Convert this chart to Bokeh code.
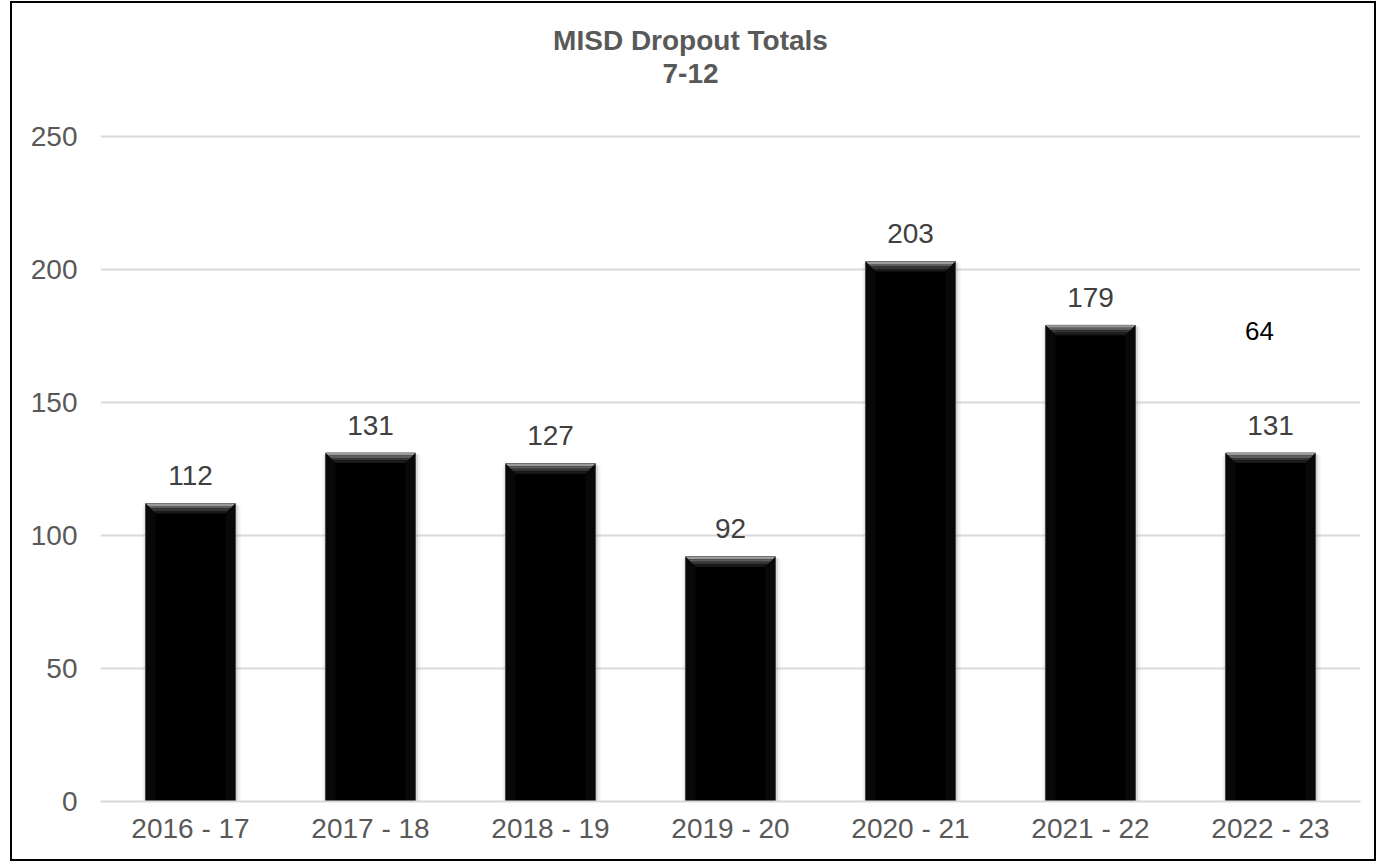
from bokeh.plotting import figure
from bokeh.models import Range1d, FixedTicker, Label, ColumnDataSource, LabelSet
from bokeh.core.properties import value
from bokeh.embed import file_html
from bokeh.resources import INLINE
import numpy as np

# ---- data ----
categories = ["2016 - 17", "2017 - 18", "2018 - 19", "2019 - 20", "2020 - 21", "2021 - 22", "2022 - 23"]
values = [112, 131, 127, 92, 203, 179, 131]
title_lines = ["MISD Dropout Totals", "7-12"]
stray_label_text = "64"
stray_label_value = 177
y_ticks = [0, 50, 100, 150, 200, 250]

FONT = "Liberation Sans"
GRAY = "#595959"

p = figure(width=1366, height=860, output_backend="svg", toolbar_location=None, title=None,
           x_range=Range1d(-0.5, len(categories) - 0.5), y_range=Range1d(0, 300),
           min_border_left=88, min_border_right=18, min_border_top=0, min_border_bottom=62)
p.styles = {"border": "2px solid black", "margin-left": "10px", "margin-top": "1px"}
p.outline_line_color = None
p.background_fill_color = "white"
p.border_fill_color = "white"

# pixel -> data conversions
px_x = 1.0 / 180.0
px_y = 250.0 / 665.0

x = np.arange(len(categories), dtype=float)
v = np.array(values, dtype=float)
half = 0.25

# soft shadows around bars
p.quad(left=x - half - 3 * px_x, right=x + half + 5 * px_x, top=v - 2 * px_y, bottom=0,
       fill_color="#909090", fill_alpha=0.12, line_color=None)
p.quad(left=x - half - 1 * px_x, right=x + half + 2.5 * px_x, top=v - 1 * px_y, bottom=0,
       fill_color="#707070", fill_alpha=0.2, line_color=None)

# bars
p.vbar(x=x, top=v, width=2 * half, bottom=0, fill_color="#000000",
       line_color="#484848", line_width=1)

# top bevel (gradient strips)
strip_colors = ["#9a9a9a", "#5e5e5e", "#353535", "#1a1a1a"]
step = 2.5
for k, col in enumerate(strip_colors):
    d0, d1 = k * step, (k + 1) * step
    xs, ys = [], []
    for xi, vi in zip(x, v):
        l, r = xi - half, xi + half
        xs.append([l + d0 * px_x, r - d0 * px_x, r - d1 * px_x, l + d1 * px_x])
        ys.append([vi - d0 * px_y, vi - d0 * px_y, vi - d1 * px_y, vi - d1 * px_y])
    p.patches(xs=xs, ys=ys, fill_color=col, line_color=None)
# side bevels (subtle)
xs, ys = [], []
for xi, vi in zip(x, v):
    l, r = xi - half, xi + half
    d = len(strip_colors) * step
    xs.append([l + 0.5 * px_x, l + d * px_x, l + d * px_x, l + 0.5 * px_x])
    ys.append([vi - 0.5 * px_y, vi - d * px_y, 0, 0])
    xs.append([r - 0.5 * px_x, r - d * px_x, r - d * px_x, r - 0.5 * px_x])
    ys.append([vi - 0.5 * px_y, vi - d * px_y, 0, 0])
p.patches(xs=xs, ys=ys, fill_color="#080808", line_color=None)

# value labels
src = ColumnDataSource(dict(x=x, y=v, t=[str(int(t)) for t in values]))
p.add_layout(LabelSet(x="x", y="y", text="t", source=src, y_offset=28,
                      text_align="center", text_baseline="middle",
                      text_font=value(FONT), text_font_size=value("28px"),
                      text_color=value("#404040")))

# stray label
p.add_layout(Label(x=len(categories) - 1, y=stray_label_value, x_offset=-11,
                   text=stray_label_text, text_align="center", text_baseline="middle",
                   text_font=FONT, text_font_size="26px", text_color="#000000"))

# title lines
for txt, off in zip(title_lines, [96, 63]):
    p.add_layout(Label(x=(len(categories) - 1) / 2, y=250, x_offset=-40, y_offset=off,
                       text=txt, text_align="center", text_baseline="middle",
                       text_font=FONT, text_font_size="28px", text_font_style="bold",
                       text_color=GRAY))

# axes
p.xaxis.ticker = FixedTicker(ticks=list(range(len(categories))))
p.xaxis.major_label_overrides = {i: c for i, c in enumerate(categories)}
p.yaxis.ticker = FixedTicker(ticks=y_ticks)
for ax in (p.xaxis[0], p.yaxis[0]):
    ax.major_tick_line_color = None
    ax.minor_tick_line_color = None
    ax.major_tick_out = 0
    ax.major_label_text_font = FONT
    ax.major_label_text_font_size = "28px"
    ax.major_label_text_color = GRAY
p.xaxis.axis_line_color = "#d9d9d9"
p.xaxis.axis_line_width = 2
p.xaxis.major_label_standoff = 11
p.yaxis.axis_line_color = None
p.yaxis.major_label_standoff = 23

p.xgrid.grid_line_color = None
p.ygrid.grid_line_color = "#d9d9d9"
p.ygrid.grid_line_width = 2

open("out.html", "w").write(file_html(p, INLINE))
